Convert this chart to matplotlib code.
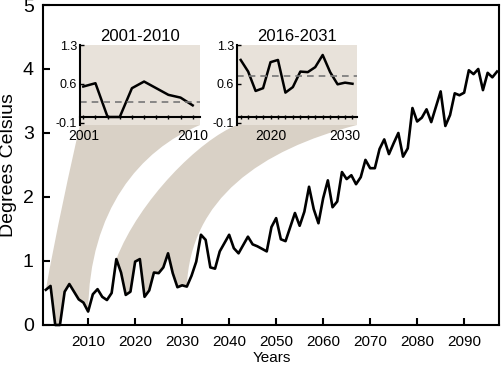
import matplotlib
matplotlib.use('Agg')
import numpy as np
import matplotlib.pyplot as plt
from matplotlib.path import Path
from matplotlib.patches import PathPatch

plt.rcParams['font.family'] = ['Liberation Sans', 'DejaVu Sans']

# yearly temperature change
years = list(range(2001, 2098))
temps = [0.55, 0.61, 0.00, 0.00, 0.52, 0.64, 0.52, 0.40, 0.35, 0.21,
         0.48, 0.56, 0.44, 0.39, 0.50, 1.03, 0.82, 0.47, 0.52, 0.99,
         1.03, 0.44, 0.54, 0.82, 0.81, 0.90, 1.12, 0.81, 0.59, 0.62,
         0.60, 0.77, 0.99, 1.41, 1.33, 0.90, 0.88, 1.15, 1.28, 1.41,
         1.20, 1.12, 1.25, 1.38, 1.26, 1.23, 1.19, 1.15, 1.53, 1.67,
         1.34, 1.31, 1.53, 1.75, 1.55, 1.77, 2.16, 1.81, 1.59, 1.98,
         2.26, 1.84, 1.93, 2.39, 2.28, 2.34, 2.20, 2.31, 2.58, 2.45,
         2.45, 2.75, 2.90, 2.67, 2.84, 3.00, 2.63, 2.76, 3.39, 3.18,
         3.24, 3.37, 3.17, 3.41, 3.65, 3.11, 3.28, 3.62, 3.59, 3.63,
         3.98, 3.92, 4.00, 3.67, 3.94, 3.87, 3.96]

main_xticks = list(range(2010, 2100, 10))
main_yticks = [0, 1, 2, 3, 4, 5]

# zoomed windows
windows = [(2001, 2010), (2016, 2031)]
window_titles = ['2001-2010', '2016-2031']
window_labels = [[2001, 2010], [2020, 2030]]
window_dashed = [0.27, 0.74]
inset_yticks = [-0.1, 0.6, 1.3]

FUNNEL = '#d9d1c6'
INSET_BG = '#e8e2da'

fig = plt.figure(figsize=(5.01, 3.65), dpi=100)
ax = fig.add_axes([0.0868, 0.1096, 0.910, 0.8767])
ax.plot(years, temps, color='black', lw=1.9, zorder=3, clip_on=False)
ax.set_xlim(2000.5, 2097.5)
ax.set_ylim(0, 5)
ax.set_xticks(main_xticks)
ax.set_yticks(main_yticks)
ax.tick_params(axis='both', direction='in', length=5, width=1.5)
ax.tick_params(axis='x', labelsize=11, pad=7)
ax.tick_params(axis='y', labelsize=14, pad=7)
for s in ax.spines.values():
    s.set_linewidth(1.5)
ax.set_xlabel('Years', fontsize=11, labelpad=2)
ax.set_ylabel('Degrees Celsius', fontsize=14, labelpad=4)

inset_pos = [[0.1597, 0.6575, 0.2395, 0.2192], [0.473, 0.6575, 0.2395, 0.2192]]
inset_xlim = [(2000.73, 2010.6), (2015.5, 2031.6)]
# bezier control fractions for funnel edges (left, right)
left_ctrl = [((0.24, 0.21), (0.75, 0.70)), ((0.31, 0.11), (0.81, 0.56))]
right_ctrl = [((0.54, 0.134), (0.99, 0.457)), ((0.57, 0.154), (0.98, 0.46))]

for i, (y0, y1) in enumerate(windows):
    sel = [k for k, y in enumerate(years) if y0 <= y <= y1]
    wx = [years[k] for k in sel]
    wy = [temps[k] for k in sel]

    # funnel from the inset down to the data
    pos = inset_pos[i]
    tl = fig.transFigure.transform((pos[0], pos[1]))
    tr = fig.transFigure.transform((pos[0] + pos[2], pos[1]))
    pts = ax.transData.transform(np.column_stack([wx, wy]))
    a, b = pts[0], pts[-1]
    (l1, l2), (r1, r2) = left_ctrl[i], right_ctrl[i]
    c1r = tr + np.array(r1) * (b - tr)
    c2r = tr + np.array(r2) * (b - tr)
    c1l = tl + np.array(l1) * (a - tl)
    c2l = tl + np.array(l2) * (a - tl)
    verts = [tl, tr, c1r, c2r, b]
    codes = [Path.MOVETO, Path.LINETO, Path.CURVE4, Path.CURVE4, Path.CURVE4]
    for p in pts[-2::-1]:
        verts.append(p)
        codes.append(Path.LINETO)
    verts += [c2l, c1l, tl, tl]
    codes += [Path.CURVE4, Path.CURVE4, Path.CURVE4, Path.CLOSEPOLY]
    dverts = ax.transData.inverted().transform(np.array(verts))
    ax.add_patch(PathPatch(Path(dverts, codes), facecolor=FUNNEL,
                           edgecolor='none', zorder=1))

    ins = fig.add_axes(pos)
    ins.set_facecolor(INSET_BG)
    ins.plot(wx, wy, color='black', lw=1.8)
    ins.axhline(window_dashed[i], color='#777777', lw=1.2, ls=(0, (4, 3)))
    ins.set_xlim(*inset_xlim[i])
    ins.set_ylim(-0.145, 1.3)
    ins.set_xticks(range(y0, y1 + 1))
    ins.set_xticklabels([str(y) if y in window_labels[i] else '' for y in range(y0, y1 + 1)])
    ins.set_yticks(inset_yticks)
    ins.set_yticklabels(['-0.1', '0.6', '1.3'])
    ins.spines['top'].set_visible(False)
    ins.spines['right'].set_visible(False)
    ins.spines['bottom'].set_position(('data', 0))
    ins.spines['bottom'].set_linewidth(1.5)
    ins.spines['left'].set_linewidth(1.5)
    ins.tick_params(axis='x', direction='inout', length=3, width=1, labelsize=10, pad=7)
    ins.tick_params(axis='y', direction='in', length=3, width=1, labelsize=9, pad=2)
    ins.set_title(window_titles[i], fontsize=12, pad=3)

fig.savefig('out.png', dpi=100)
